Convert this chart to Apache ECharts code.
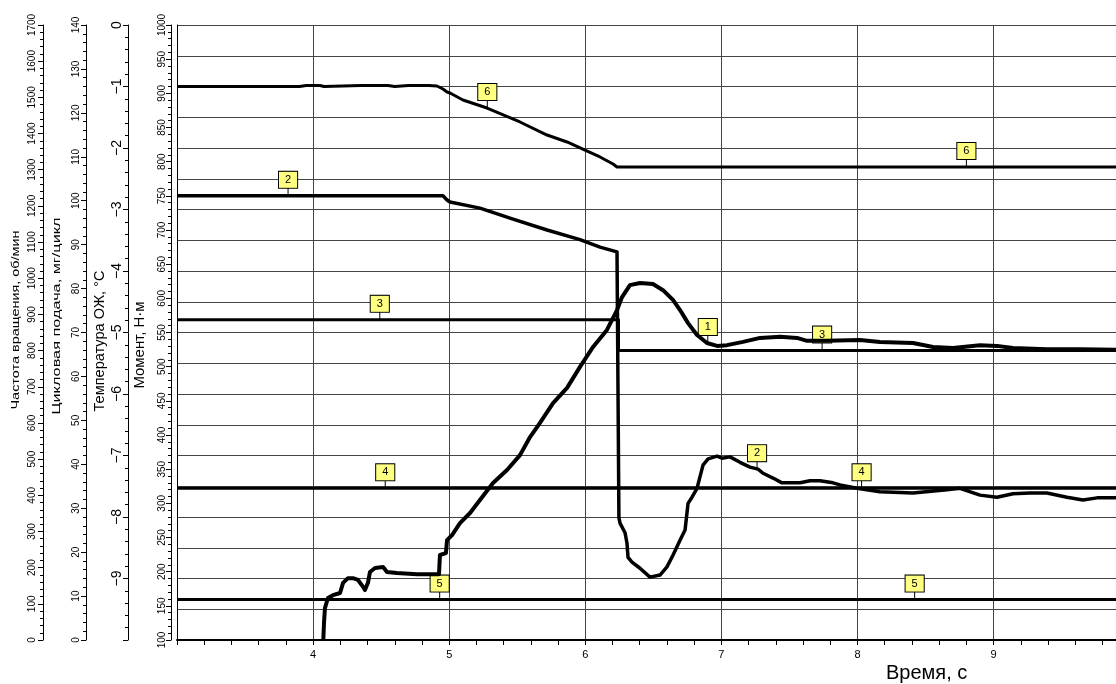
<!DOCTYPE html>
<html>
<head>
<meta charset="utf-8">
<script src="https://cdn.jsdelivr.net/npm/echarts@6/dist/echarts.min.js"></script>
<style>
  html, body { margin: 0; padding: 0; background: #fff; }
  #chart { width: 1116px; height: 684px; }
</style>
</head>
<body>
<div id="chart"></div>
<script>
// ---- Scales ----
const timeRange = [3, 10];          // Время, с
const speedRange = [0, 1700, 100];  // Частота вращения, об/мин
const feedRange = [0, 140, 10];     // Цикловая подача, мг/цикл
const tempRange = [-10, 0, 1];      // Температура ОЖ, °C
const torqueRange = [100, 1000, 50];// Момент, Н·м

// ---- Axis titles ----
const axisTitles = ['Частота вращения, об/мин', 'Цикловая подача, мг/цикл', 'Температура ОЖ, °C', 'Момент, Н·м'];
const timeTitle = 'Время, с';

// ---- 1: crankshaft speed, об/мин ----
const speedTime = [4.075, 4.080, 4.087, 4.109, 4.146, 4.198, 4.220, 4.256, 4.293, 4.330,
  4.367, 4.381, 4.403, 4.418, 4.455, 4.514, 4.543, 4.616, 4.763, 4.925,
  4.932, 4.976, 4.984, 5.021, 5.079, 5.153, 5.226, 5.322, 5.425, 5.520,
  5.594, 5.667, 5.763, 5.866, 5.961, 6.057, 6.159, 6.233, 6.270, 6.328,
  6.402, 6.497, 6.571, 6.644, 6.696, 6.755, 6.821, 6.894, 6.968, 7.041,
  7.159, 7.284, 7.431, 7.556, 7.629, 7.776, 8.018, 8.165, 8.408, 8.555,
  8.702, 8.900, 9.025, 9.142, 9.392, 9.635, 9.950];
const speedValue = [0, 47, 88, 116, 124, 130, 158, 171, 171, 166,
  147, 138, 158, 188, 199, 202, 188, 185, 182, 182,
  235, 240, 276, 290, 323, 351, 387, 434, 470, 511,
  561, 600, 655, 697, 755, 810, 857, 912, 948, 981,
  987, 984, 967, 940, 912, 876, 843, 821, 813, 815,
  824, 835, 838, 835, 827, 827, 829, 824, 821, 810,
  807, 815, 813, 807, 804, 804, 802];

// ---- 2: torque, Н·м ----
const torqueTime = [3.000, 4.954, 4.984, 5.006, 5.226, 5.469, 5.719, 5.961, 6.108, 6.233,
  6.244, 6.247, 6.255, 6.292, 6.306, 6.314, 6.343, 6.402, 6.475, 6.549,
  6.600, 6.644, 6.696, 6.733, 6.755, 6.784, 6.821, 6.843, 6.865, 6.902,
  6.968, 7.004, 7.063, 7.137, 7.210, 7.269, 7.306, 7.379, 7.445, 7.526,
  7.578, 7.651, 7.724, 7.820, 7.871, 7.996, 8.165, 8.408, 8.658, 8.753,
  8.900, 9.025, 9.142, 9.267, 9.392, 9.539, 9.657, 9.760, 9.950];
const torqueValue = [750, 750, 744, 741, 732, 716, 700, 686, 675, 668,
  666, 279, 271, 257, 242, 221, 214, 205, 192, 195,
  207, 224, 246, 261, 300, 309, 322, 339, 356, 365,
  369, 366, 368, 360, 353, 350, 344, 337, 330, 330,
  330, 333, 333, 330, 327, 322, 317, 315, 320, 322,
  312, 309, 314, 315, 315, 309, 305, 308, 308];

// ---- 3: speed setpoint, об/мин ----
const speedSetTime = [3.0, 6.244, 6.244, 9.950];
const speedSetValue = [885, 885, 800, 800];

// ---- 4: torque setpoint, Н·м ----
const torqueSetTime = [3.0, 9.950];
const torqueSetValue = [322, 322];

// ---- 5: cyclic fuel feed, мг/цикл ----
const feedTime = [3.0, 9.950];
const feedValue = [9.2, 9.2];

// ---- 6: coolant temperature, °C ----
const tempTime = [3.00, 3.44, 3.45, 3.47, 3.90, 3.95, 4.05, 4.08, 4.35, 4.55,
  4.60, 4.70, 4.85, 4.910, 4.954, 4.984, 5.006, 5.101, 5.278, 5.520,
  5.719, 5.866, 5.998, 6.108, 6.204, 6.233, 9.950];
const tempValue = [-1.00, -1.00, -0.985, -1.00, -1.00, -0.985, -0.985, -1.00, -0.985, -0.985,
  -1.00, -0.985, -0.985, -0.992, -1.041, -1.089, -1.106, -1.220, -1.350, -1.577,
  -1.789, -1.902, -2.033, -2.146, -2.260, -2.309, -2.309];

// ---- Curve number tags: [time, value] ----
const tags1 = [[6.90, 821]];
const tags2 = [[3.816, 750], [7.262, 350]];
const tags3 = [[4.49, 885], [7.74, 800]];
const tags4 = [[4.53, 322], [8.03, 322]];
const tags5 = [[4.93, 9.2], [8.42, 9.2]];
const tags6 = [[5.28, -1.35], [8.80, -2.309]];

const FONT = '"Liberation Sans", Arial, sans-serif';
const zip = (xs, ys) => xs.map((x, i) => [x, ys[i]]);

// measure a string so the vertical titles can be stretched to a given length
const measureCtx = document.createElement('canvas').getContext('2d');
function textWidth(text, size) {
  measureCtx.font = size + 'px ' + FONT;
  return measureCtx.measureText(text).width;
}

// vertical axis title, reading bottom-to-top, centred at (cx, cy), spanning `span` px
function sideTitle(text, cx, cy, size, span) {
  const sx = span / textWidth(text, size);
  return {
    type: 'text', x: cx, y: cy, rotation: Math.PI / 2, scaleX: sx, scaleY: 1,
    silent: true,
    style: {
      text: text, font: size + 'px ' + FONT, fill: '#000',
      align: 'center', verticalAlign: 'middle',
      textAlign: 'center', textVerticalAlign: 'middle'
    }
  };
}

function tagMarks(name, tags) {
  return {
    z: 1,
    silent: true,
    symbol: 'rect',
    symbolSize: [1, 8],
    symbolOffset: [0, '-50%'],
    itemStyle: { color: '#000' },
    label: {
      show: true, position: 'top', distance: 0,
      formatter: name,
      color: '#000', fontFamily: FONT, fontSize: 11, lineHeight: 12,
      backgroundColor: '#ffff80', borderColor: '#000', borderWidth: 1,
      padding: [2, 6, 2, 6]
    },
    data: tags.map(c => ({ coord: c }))
  };
}

function curve(name, axis, data, tags, width) {
  return {
    name: name, type: 'line', yAxisIndex: axis, data: data,
    showSymbol: false, symbol: 'none', silent: true, clip: true,
    lineStyle: { color: '#000', width: width || 3, join: 'round', cap: 'butt' },
    markPoint: tagMarks(name, tags)
  };
}

function leftAxis(range, offset, labelSize, margin, fmt) {
  return {
    type: 'value', position: 'left', offset: offset,
    min: range[0], max: range[1], interval: range[2],
    axisLine: { show: true, lineStyle: { color: '#000', width: 1 } },
    axisTick: { show: true, length: 5, lineStyle: { color: '#000' } },
    minorTick: { show: true, splitNumber: 5, length: 3, lineStyle: { color: '#000' } },
    splitLine: { show: false },
    axisLabel: {
      rotate: 90, margin: margin, color: '#000', fontFamily: FONT, fontSize: labelSize,
      hideOverlap: false, showMinLabel: true, showMaxLabel: true,
      formatter: fmt || (v => String(v))
    }
  };
}

const chart = echarts.init(document.getElementById('chart'), null, { renderer: 'canvas' });

chart.setOption({
  animation: false,
  backgroundColor: '#fff',
  title: {
    text: timeTitle, left: 886, top: 662, padding: 0,
    textStyle: { color: '#000', fontFamily: FONT, fontSize: 20, fontWeight: 'normal', lineHeight: 22 }
  },
  graphic: [
    sideTitle(axisTitles[0], 15.5, 320, 11, 179),
    sideTitle(axisTitles[1], 56.5, 316, 11, 197),
    sideTitle(axisTitles[2], 100, 341, 14, 141),
    sideTitle(axisTitles[3], 140.5, 345, 14, 87)
  ],
  // the time scale runs on past the right edge of the page
  grid: {
    left: 177, top: 25, height: 615, width: 952.7,
    containLabel: false, outerBoundsMode: 'none'
  },
  xAxis: {
    type: 'value', min: timeRange[0], max: timeRange[1], interval: 1,
    axisLine: { show: true, onZero: false, lineStyle: { color: '#000', width: 2 } },
    axisTick: { show: true, length: 5, lineStyle: { color: '#000' } },
    minorTick: { show: true, splitNumber: 5, length: 5, lineStyle: { color: '#000' } },
    splitLine: { show: true, lineStyle: { color: '#444', width: 1 } },
    axisLabel: {
      color: '#000', fontFamily: FONT, fontSize: 11, margin: 9,
      formatter: v => (v > timeRange[0] && v < timeRange[1]) ? String(v) : ''
    }
  },
  yAxis: [
    leftAxis(speedRange, 134, 10, 6),
    leftAxis(feedRange, 91, 10, 5),
    leftAxis(tempRange, 49, 14, 4,
      v => v === tempRange[0] ? '' : (v < 0 ? '\u2212' + (-v) : String(v))),
    leftAxis(torqueRange, 6, 10, 4),
    {
      // plot frame and horizontal grid, every 0.5 °C
      type: 'value', position: 'left', offset: 0, min: 0, max: 20, interval: 1,
      axisLine: { show: true, lineStyle: { color: '#000', width: 1 } },
      axisTick: { show: false }, axisLabel: { show: false },
      splitLine: { show: true, lineStyle: { color: '#444', width: 1 } }
    }
  ],
  series: [
    curve('1', 0, zip(speedTime, speedValue), tags1, 4),
    curve('2', 3, zip(torqueTime, torqueValue), tags2, 3.5),
    curve('3', 0, zip(speedSetTime, speedSetValue), tags3, 3),
    curve('4', 3, zip(torqueSetTime, torqueSetValue), tags4, 3),
    curve('5', 1, zip(feedTime, feedValue), tags5, 3),
    curve('6', 2, zip(tempTime, tempValue), tags6, 3)
  ]
});
</script>
</body>
</html>
